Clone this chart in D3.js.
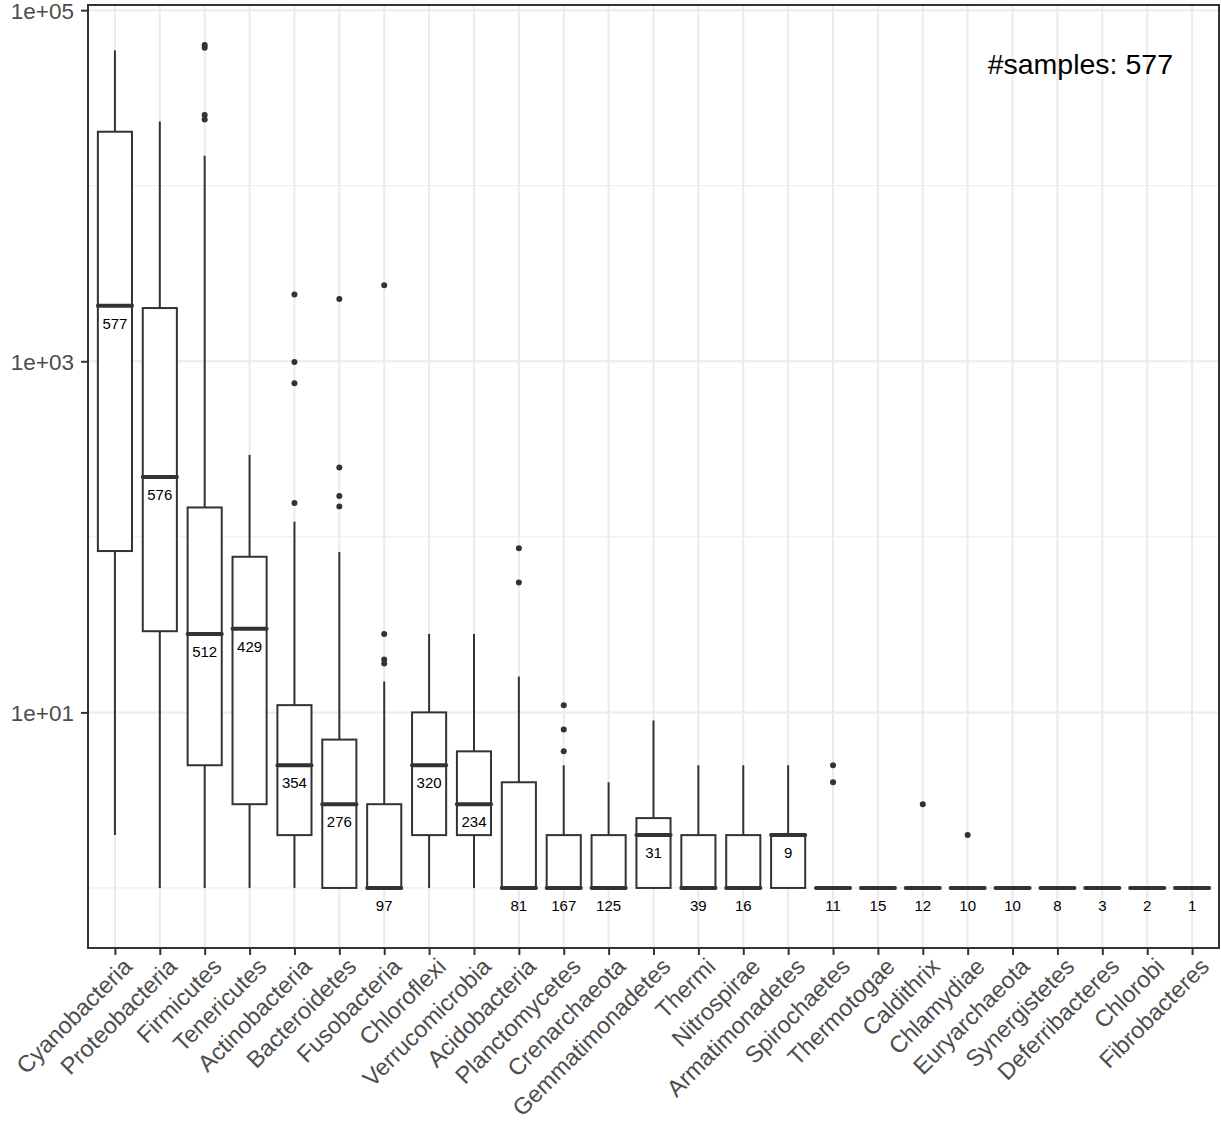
<!DOCTYPE html>
<html>
<head>
<meta charset="utf-8">
<script src="https://cdn.jsdelivr.net/npm/d3@7"></script>
<style>
  body { margin: 0; background: #fff; }
  svg { display: block; font-family: "Liberation Sans", Arial, Helvetica, sans-serif; }
</style>
</head>
<body>
<script>
// phyla, in plot order
const phyla = ['Cyanobacteria', 'Proteobacteria', 'Firmicutes', 'Tenericutes', 'Actinobacteria',
  'Bacteroidetes', 'Fusobacteria', 'Chloroflexi', 'Verrucomicrobia', 'Acidobacteria',
  'Planctomycetes', 'Crenarchaeota', 'Gemmatimonadetes', 'Thermi', 'Nitrospirae',
  'Armatimonadetes', 'Spirochaetes', 'Thermotogae', 'Caldithrix', 'Chlamydiae',
  'Euryarchaeota', 'Synergistetes', 'Deferribacteres', 'Chlorobi', 'Fibrobacteres'];

// number of samples per phylum (label under the median)
const counts = [577, 576, 512, 429, 354, 276, 97, 320, 234, 81, 167, 125, 31, 39, 16, 9, 11, 15, 12, 10, 10, 8, 3, 2, 1];

// box statistics
const whiskerLow = [2, 1, 1, 1, 1, 1, 1, 1, 1, 1, 1, 1, 1, 1, 1, 1, 1, 1, 1, 1, 1, 1, 1, 1, 1];
const q1 =         [83, 29, 5, 3, 2, 1, 1, 2, 2, 1, 1, 1, 1, 1, 1, 1, 1, 1, 1, 1, 1, 1, 1, 1, 1];
const medians =    [2070, 219, 28, 30, 5, 3, 1, 5, 3, 1, 1, 1, 2, 1, 1, 2, 1, 1, 1, 1, 1, 1, 1, 1, 1];
const q3 =         [20300, 2010, 147, 77, 11, 7, 3, 10, 6, 4, 2, 2, 2.5, 2, 2, 2, 1, 1, 1, 1, 1, 1, 1, 1, 1];
const whiskerHigh = [59000, 23200, 14800, 293, 122, 82, 15, 28, 28, 16, 5, 4, 9, 5, 5, 5, 1, 1, 1, 1, 1, 1, 1, 1, 1];
const outliers = [
  [], [], [63400, 61000, 25300, 23800], [], [2400, 990, 750, 156],
  [2260, 248, 171, 149], [2710, 28, 20, 19], [], [], [86, 55],
  [11, 8, 6], [], [], [], [],
  [], [5, 4], [], [3], [2],
  [], [], [], [], []
];

const yTicks = [10, 1000, 100000];
const yMinor = [1, 100, 10000];
const annotation = '#samples: 577';

const width = 1221, height = 1124;
const margin = {top: 5, right: 2, bottom: 176, left: 88};
const ink = '#333333';

const svg = d3.select('body').append('svg')
  .attr('width', width)
  .attr('height', height);

const x = d3.scalePoint()
  .domain(phyla)
  .range([margin.left, width - margin.right])
  .padding(0.6);

const y = d3.scaleLog()
  .domain([0.455, 107000])
  .range([height - margin.bottom, margin.top]);

const boxW = x.step() * 0.76;

const data = phyla.map((p, i) => ({
  name: p, n: counts[i], lo: whiskerLow[i], q1: q1[i], med: medians[i],
  q3: q3[i], hi: whiskerHigh[i], out: outliers[i]
}));

// panel grid
const grid = svg.append('g');
grid.selectAll('line.minor')
  .data(yMinor)
  .join('line')
    .attr('x1', margin.left).attr('x2', width - margin.right)
    .attr('y1', d => y(d)).attr('y2', d => y(d))
    .attr('stroke', '#ebebeb').attr('stroke-width', 1);
grid.selectAll('line.major')
  .data(yTicks)
  .join('line')
    .attr('x1', margin.left).attr('x2', width - margin.right)
    .attr('y1', d => y(d)).attr('y2', d => y(d))
    .attr('stroke', '#ebebeb').attr('stroke-width', 2);
grid.selectAll('line.xg')
  .data(phyla)
  .join('line')
    .attr('x1', d => x(d)).attr('x2', d => x(d))
    .attr('y1', margin.top).attr('y2', height - margin.bottom)
    .attr('stroke', '#ebebeb').attr('stroke-width', 2);

// boxes
const boxes = svg.append('g')
  .selectAll('g')
  .data(data)
  .join('g');

boxes.append('line')
  .attr('x1', d => x(d.name)).attr('x2', d => x(d.name))
  .attr('y1', d => y(d.q3)).attr('y2', d => y(d.hi))
  .attr('stroke', ink).attr('stroke-width', 2);
boxes.append('line')
  .attr('x1', d => x(d.name)).attr('x2', d => x(d.name))
  .attr('y1', d => y(d.q1)).attr('y2', d => y(d.lo))
  .attr('stroke', ink).attr('stroke-width', 2);
boxes.append('rect')
  .attr('x', d => x(d.name) - boxW / 2)
  .attr('width', boxW)
  .attr('y', d => y(d.q3))
  .attr('height', d => y(d.q1) - y(d.q3))
  .attr('fill', '#fff')
  .attr('stroke', ink).attr('stroke-width', 2);
boxes.append('line')
  .attr('x1', d => x(d.name) - boxW / 2).attr('x2', d => x(d.name) + boxW / 2)
  .attr('y1', d => y(d.med)).attr('y2', d => y(d.med))
  .attr('stroke', ink).attr('stroke-width', 4)
  .attr('stroke-linecap', 'round');
boxes.selectAll('circle')
  .data(d => d.out.map(v => ({name: d.name, v})))
  .join('circle')
    .attr('cx', d => x(d.name))
    .attr('cy', d => y(d.v))
    .attr('r', 3)
    .attr('fill', ink);

// sample counts under medians
boxes.append('text')
  .attr('x', d => x(d.name))
  .attr('y', d => y(d.med) + 23)
  .attr('text-anchor', 'middle')
  .attr('font-size', 15)
  .attr('fill', '#000')
  .text(d => d.n);

// panel border
svg.append('rect')
  .attr('x', margin.left).attr('y', margin.top)
  .attr('width', width - margin.right - margin.left)
  .attr('height', height - margin.bottom - margin.top)
  .attr('fill', 'none')
  .attr('stroke', ink).attr('stroke-width', 2);

// y axis
const yAxis = svg.append('g')
  .attr('transform', `translate(${margin.left},0)`)
  .call(d3.axisLeft(y).tickValues(yTicks).tickSize(7).tickPadding(7)
    .tickFormat(d => d3.format('.0e')(d).replace(/e([+-])(\d)$/, 'e$10$2')));
yAxis.select('.domain').remove();
yAxis.selectAll('line').attr('stroke', ink).attr('stroke-width', 2);
yAxis.selectAll('text')
  .attr('fill', '#4d4d4d')
  .attr('font-size', 22.5)
  .attr('dy', '0.36em')
  .attr('font-family', '"Liberation Sans", Arial, sans-serif');

// x axis
const xAxis = svg.append('g')
  .attr('transform', `translate(0,${height - margin.bottom})`)
  .call(d3.axisBottom(x).tickSize(7).tickSizeOuter(0));
xAxis.select('.domain').remove();
xAxis.selectAll('line').attr('stroke', ink).attr('stroke-width', 2);
xAxis.selectAll('text')
  .attr('fill', '#4d4d4d')
  .attr('font-size', 23.5)
  .attr('font-family', '"Liberation Sans", Arial, sans-serif')
  .attr('text-anchor', 'end')
  .attr('dy', '0.72em')
  .attr('transform', 'translate(6,8) rotate(-45)')
  .attr('y', 0);

svg.append('text')
  .attr('x', 1173)
  .attr('y', 74)
  .attr('text-anchor', 'end')
  .attr('font-size', 28.5)
  .attr('fill', '#000')
  .text(annotation);
</script>
</body>
</html>
